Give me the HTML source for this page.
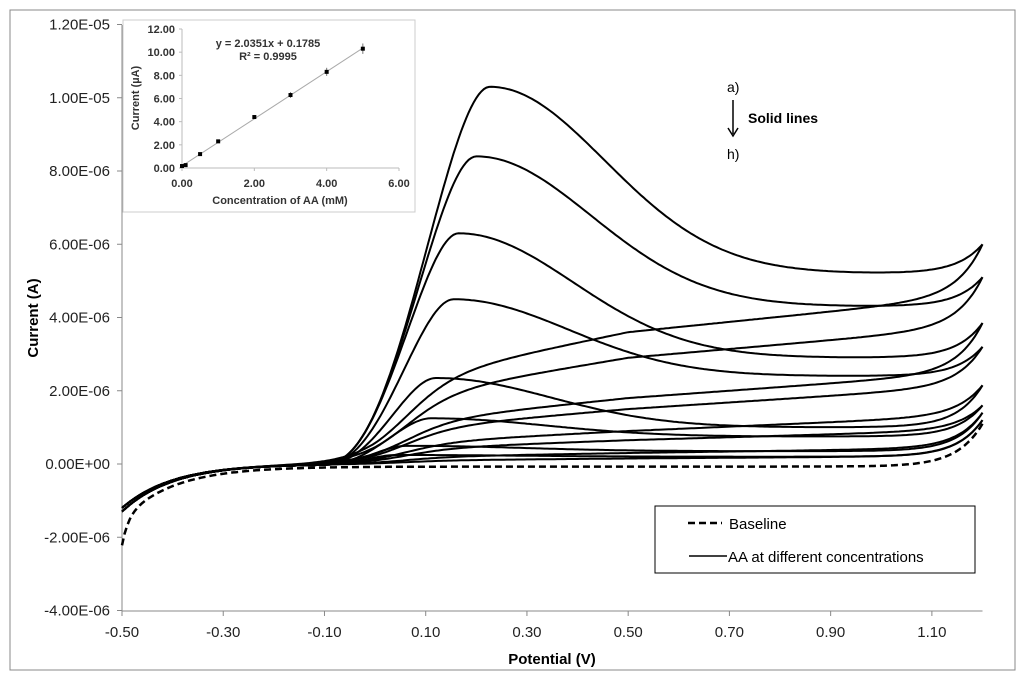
<!DOCTYPE html>
<html><head><meta charset="utf-8"><style>
body{margin:0;background:#fff}
svg text{font-family:"Liberation Sans",Arial,sans-serif}
</style></head><body>
<svg id="chart" width="1024" height="679" viewBox="0 0 1024 679" xmlns="http://www.w3.org/2000/svg">
<rect x="10" y="10" width="1005" height="660" fill="#fff" stroke="#888" stroke-width="1"/>
<g id="axes"></g>
<g id="curves" fill="none" stroke="#000" stroke-width="2"></g>
<g id="inset"></g>
<g>
<rect x="655" y="506" width="320" height="67" fill="#fff" stroke="#000" stroke-width="1"/>
<line x1="688" y1="523" x2="722" y2="523" stroke="#000" stroke-width="2.5" stroke-dasharray="7,4"/>
<text x="729" y="529" font-size="15">Baseline</text>
<line x1="689" y1="556" x2="727" y2="556" stroke="#000" stroke-width="1.5"/>
<text x="728" y="562" font-size="15">AA at different concentrations</text>
</g>
<g>
<text x="727" y="92" font-size="14">a)</text>
<line x1="733" y1="100" x2="733" y2="134" stroke="#000" stroke-width="1.5"/>
<path d="M728,128 L733,136 L738,128" fill="none" stroke="#000" stroke-width="1.5"/>
<text x="748" y="123" font-size="14" font-weight="bold">Solid lines</text>
<text x="727" y="159" font-size="14">h)</text>
</g>
</svg>
<script>
// Main chart data (currents in µA, potentials in V)
const xTicks = [-0.50,-0.30,-0.10,0.10,0.30,0.50,0.70,0.90,1.10];
const yTicks = [12,10,8,6,4,2,0,-2,-4];
const yTickLabels = ["1.20E-05","1.00E-05","8.00E-06","6.00E-06","4.00E-06","2.00E-06","0.00E+00","-2.00E-06","-4.00E-06"];
const peakI   = [10.3, 8.4, 6.3, 4.5, 2.35, 1.25, 0.5, 0.25];
const peakE   = [0.227,0.20,0.165,0.155,0.12,0.11,0.06,0.04];
const tailI   = [5.2, 4.3, 2.9, 2.4, 1.0, 0.75, 0.35, 0.2];
const endI    = [6.0, 5.1, 3.85, 3.2, 2.15, 1.6, 1.4, 1.2];
const rev05   = [3.6, 2.9, 1.8, 1.5, 0.9, 0.65, 0.3, 0.15];
const rev10   = [4.3, 3.5, 2.3, 1.95, 1.2, 0.85, 0.4, 0.2];
const baseEnd = 1.1;
// Inset data
const insetConc = [0,0.1,0.5,1,2,3,4,5];
const insetCurr = [0.17,0.25,1.2,2.3,4.4,6.3,8.3,10.3];
const insetErr  = [0.05,0.05,0.1,0.1,0.15,0.25,0.35,0.45];
const insetXTicks = [0,2,4,6];
const insetYTicks = [0,2,4,6,8,10,12];

const NS="http://www.w3.org/2000/svg";
function mk(tag,attrs,parent,text){const e=document.createElementNS(NS,tag);for(const k in attrs)e.setAttribute(k,attrs[k]);if(text!==undefined)e.textContent=text;parent.appendChild(e);return e;}
const X=v=>122+(v+0.5)*(860.5/1.7);
const Y=v=>464-v*36.625;
const axes=document.getElementById('axes');
let l=mk('line',{x1:122,y1:25,x2:122,y2:611,stroke:'#888'},axes);

l=mk('line',{x1:122,y1:611,x2:982.5,y2:611,stroke:'#888'},axes);

yTicks.forEach((v,i)=>{mk('line',{x1:117,y1:Y(v),x2:122,y2:Y(v),stroke:'#888'},axes);
 const t=mk('text',{x:110,y:Y(v)+5,'font-size':15,'text-anchor':'end',fill:'#222'},axes,yTickLabels[i]);
 });
xTicks.forEach(v=>{mk('line',{x1:X(v),y1:611,x2:X(v),y2:616,stroke:'#888'},axes);
 const t=mk('text',{x:X(v),y:637,'font-size':15,'text-anchor':'middle',fill:'#222'},axes,v.toFixed(2));
 });
let t=mk('text',{x:552,y:664,'font-size':15,'font-weight':'bold','text-anchor':'middle'},axes,'Potential (V)');

t=mk('text',{x:38,y:318,'font-size':15,'font-weight':'bold','text-anchor':'middle',transform:'rotate(-90 38 318)'},axes,'Current (A)');


const neg=(E,a)=>-a*Math.exp(-(E+0.5)/0.1);
const up=(E,amt)=>amt*Math.exp((E-1.2)/0.05);
const E0=-0.11;
function fwd(i,E){const p=peakI[i],ep=peakE[i],tl=tailI[i];
 let v;
 if(E<=E0)v=0;
 else if(E<ep){const u=Math.pow((E-E0)/(ep-E0),1.3);v=p*u*u*(3-2*u);}
 else v=tl+(p-tl)*Math.exp(-Math.pow((E-ep)/0.32,2));
 const base=tl+(p-tl)*Math.exp(-Math.pow((1.2-ep)/0.32,2));
 return v+up(E,endI[i]-base)+neg(E,1.3);}
function rev(i,E){const s=1/(1+Math.exp(-(E-0.05)/0.05));
 const lin=E<0.5?rev05[i]*(0.6+0.8*Math.max(E,0)):rev05[i]+(rev10[i]-rev05[i])*(E-0.5)/0.5;
 const base=rev05[i]+(rev10[i]-rev05[i])*1.4;
 return s*lin+up(E,endI[i]-base)+neg(E,1.2);}
const cg=document.getElementById('curves');
function path(fn){let d='';for(let E=-0.5;E<=1.2001;E+=0.005){d+=(d?'L':'M')+X(E).toFixed(1)+','+Y(fn(E)).toFixed(1);}return d;}
peakI.forEach((p,i)=>{
 const a=mk('path',{d:path(E=>fwd(i,E))},cg);
 
 const b=mk('path',{d:path(E=>rev(i,E))},cg);
 
});
let bl=mk('path',{d:path(E=>-0.07+up(E,baseEnd+0.07)+neg(E,1.45)-0.7*Math.exp(-(E+0.5)/0.012)),'stroke-dasharray':'7,4','stroke-width':2.5},cg);


// inset
const ins=document.getElementById('inset');
let r=mk('rect',{x:123,y:20,width:292,height:192,fill:'#fff',stroke:'#ccc'},ins);

const IX=v=>182+v*(217/6), IY=v=>168-v*(139/12);
mk('line',{x1:182,y1:IY(12),x2:182,y2:168,stroke:'#bbb'},ins);
mk('line',{x1:182,y1:168,x2:IX(6),y2:168,stroke:'#bbb'},ins);
insetYTicks.forEach(v=>{mk('line',{x1:179,y1:IY(v),x2:182,y2:IY(v),stroke:'#bbb'},ins);
 const q=mk('text',{x:175,y:IY(v)+4,'font-size':11,'font-weight':'bold','text-anchor':'end',fill:'#333'},ins,v.toFixed(2));
 });
insetXTicks.forEach(v=>{mk('line',{x1:IX(v),y1:168,x2:IX(v),y2:171,stroke:'#bbb'},ins);
 const q=mk('text',{x:IX(v),y:187,'font-size':11,'font-weight':'bold','text-anchor':'middle',fill:'#333'},ins,v.toFixed(2));
 });
let q=mk('text',{x:280,y:204,'font-size':11,'font-weight':'bold','text-anchor':'middle',fill:'#333'},ins,'Concentration of AA (mM)');

q=mk('text',{x:139,y:98,'font-size':11,'font-weight':'bold','text-anchor':'middle',fill:'#333',transform:'rotate(-90 139 98)'},ins,'Current (µA)');

q=mk('line',{x1:IX(0),y1:IY(0.1785),x2:IX(5),y2:IY(2.0351*5+0.1785),stroke:'#aaa','stroke-width':1},ins);

insetConc.forEach((c,i)=>{
 const e=mk('line',{x1:IX(c),y1:IY(insetCurr[i]-insetErr[i]),x2:IX(c),y2:IY(insetCurr[i]+insetErr[i]),stroke:'#777'},ins);
 
 const p=mk('rect',{x:IX(c)-2,y:IY(insetCurr[i])-2,width:4,height:4,fill:'#000'},ins);
 });
q=mk('text',{x:268,y:47,'font-size':11,'font-weight':'bold','text-anchor':'middle',fill:'#333'},ins,'y = 2.0351x + 0.1785');

q=mk('text',{x:268,y:60,'font-size':11,'font-weight':'bold','text-anchor':'middle',fill:'#333'},ins,'R² = 0.9995');

</script>
</body></html>
